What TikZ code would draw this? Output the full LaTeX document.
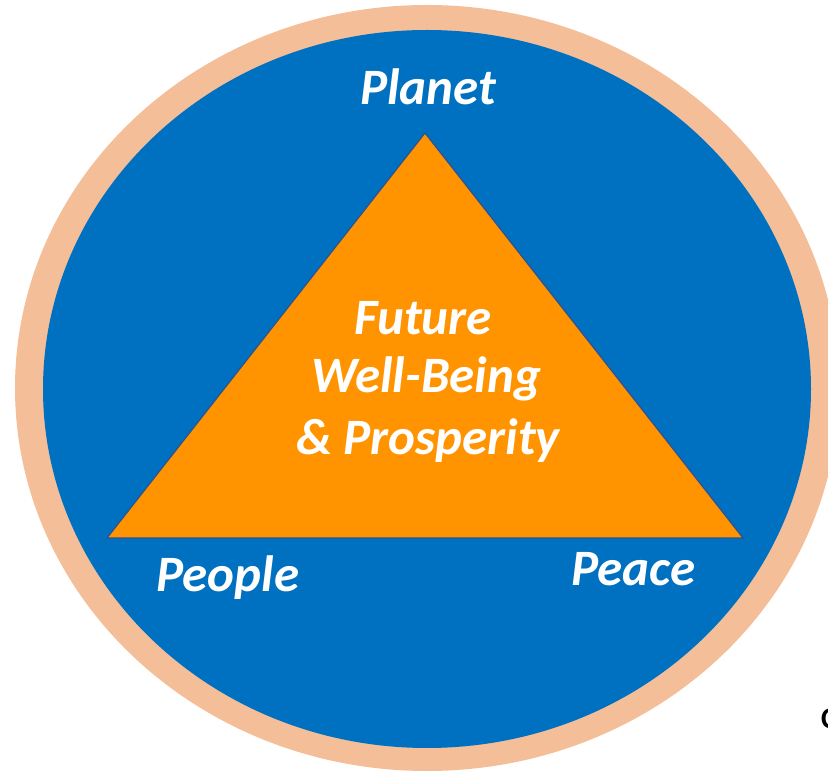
\documentclass[tikz,border=0pt]{standalone}
\usepackage{fontspec}
\setmainfont{Carlito}
\usetikzlibrary{positioning}
\definecolor{ringpeach}{HTML}{F4BE98}
\definecolor{discblue}{HTML}{0070C0}
\definecolor{triorange}{HTML}{FF9400}
\definecolor{triedge}{HTML}{2F528F}

\begin{document}
\begin{tikzpicture}[x=1pt,y=1pt,inner sep=0pt,
  wordnode/.style={text=white,anchor=base,font=\fontsize{51}{60}\selectfont\bfseries\itshape}]
\useasboundingbox (0,0) rectangle (828,772);
% ring and disc
\fill[ringpeach] (427,384) ellipse [x radius=412,y radius=383];
\fill[discblue] (427,383) ellipse [x radius=384,y radius=359];
% triangle
\coordinate (apex) at (425,639);
\coordinate (lcorner) at (107,234);
\coordinate (rcorner) at (743,234);
\filldraw[fill=triorange,draw=triedge,line width=1.2pt] (apex) -- (lcorner) -- (rcorner) -- cycle;
\node [wordnode] (planet) at (428,667) {Planet};
\node [wordnode] (future) at (423,437) {Future};
\node [wordnode] (wellbeing) at (426,379) {Well-Being};
\node [wordnode] (prosperity) at (428,317) {\& Prosperity};
\node [wordnode] (people) at (228,180) {People};
\node [wordnode] (peace) at (633,186) {Peace};
\node [anchor=base west,font=\fontsize{30}{36}\selectfont\bfseries] (cut) at (821,44) {C};
\end{tikzpicture}
\end{document}
